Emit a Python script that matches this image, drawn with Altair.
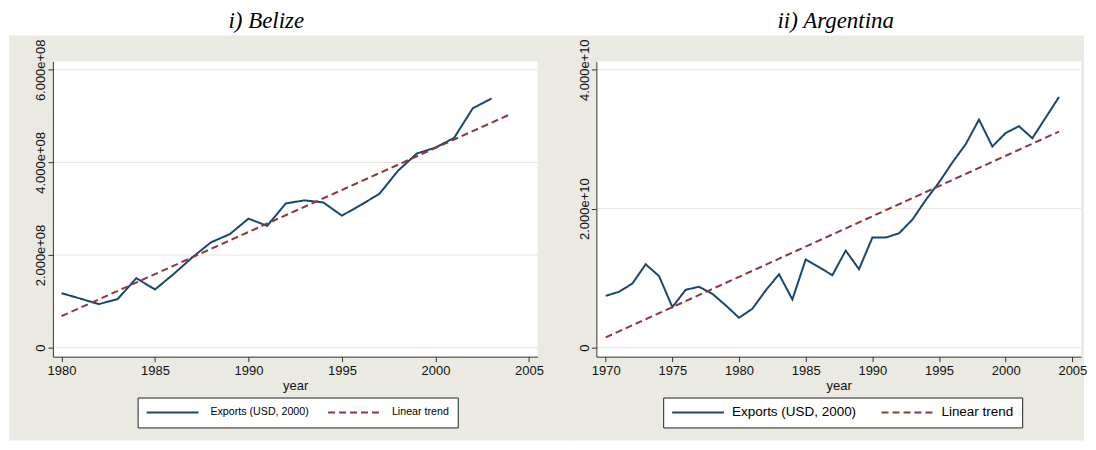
import altair as alt
import pandas as pd

# ---------------- data ----------------
EXP = "Exports (USD, 2000)"
TREND = "Linear trend"

belize_years = list(range(1980, 2004))
belize_exports = [1.177e8, 1.06e8, 0.94e8, 1.048e8, 1.50e8, 1.256e8, 1.59e8, 1.95e8,
                  2.275e8, 2.45e8, 2.785e8, 2.63e8, 3.115e8, 3.18e8, 3.136e8, 2.85e8,
                  3.08e8, 3.32e8, 3.82e8, 4.19e8, 4.32e8, 4.53e8, 5.17e8, 5.38e8]
belize_trend_years = [1980, 2004]
belize_trend = [0.68e8, 5.04e8]
belize_xticks = [1980, 1985, 1990, 1995, 2000, 2005]
belize_yticks = [0, 2e8, 4e8, 6e8]

argentina_years = list(range(1970, 2005))
argentina_exports = [0.746e10, 0.804e10, 0.923e10, 1.200e10, 1.030e10, 0.584e10, 0.833e10,
                     0.876e10, 0.775e10, 0.610e10, 0.430e10, 0.560e10, 0.823e10, 1.057e10,
                     0.694e10, 1.268e10, 1.158e10, 1.043e10, 1.397e10, 1.129e10, 1.584e10,
                     1.584e10, 1.646e10, 1.842e10, 2.124e10, 2.378e10, 2.665e10, 2.928e10,
                     3.282e10, 2.895e10, 3.090e10, 3.187e10, 3.014e10, 3.311e10, 3.608e10]
argentina_trend_years = [1970, 2004]
argentina_trend = [0.148e10, 3.11e10]
argentina_xticks = [1970, 1975, 1980, 1985, 1990, 1995, 2000, 2005]
argentina_yticks = [0, 2e10, 4e10]

# ---------------- style ----------------
NAVY = "#1a476f"
MAROON = "#90353b"
GREY = "#eaeae2"
GRID = "#e4e4da"
AXIS = "#333333"
SANS = "Liberation Sans"
SERIF = "Liberation Serif"
W, H = 486, 296

LABEL_EXPR = ("datum.value == 0 ? '0' : "
              "replace(format(datum.value, '.3e'), regexp('e\\\\+(\\\\d)$'), 'e+0$1')")


def panel(title, title_x, years, values, t_years, t_values, xdom, ydom, xticks, yticks,
          region, legend_x, legend_font, legend_offset, legend_colpad):
    df = pd.DataFrame({
        "year": years + t_years,
        "value": values + t_values,
        "series": [EXP] * len(years) + [TREND] * len(t_years),
    })
    legend = alt.Legend(
        title=None, orient="none", legendX=legend_x, legendY=337,
        direction="horizontal", columns=2, symbolType="stroke",
        symbolSize=2704, symbolStrokeWidth=2, clipHeight=14,
        labelFont=SANS, labelFontSize=legend_font, labelColor="black",
        labelOffset=legend_offset, columnPadding=legend_colpad, padding=8,
        labelLimit=400, fillColor="white", strokeColor="#222222",
    )
    y_scale = alt.Scale(domain=ydom, nice=False, zero=False)
    y_axis = alt.Axis(values=yticks, title=None, labelExpr=LABEL_EXPR, zindex=1,
                      labelAngle=270, labelAlign="center",
                      labelBaseline="alphabetic", labelPadding=3,
                      tickSize=5, grid=False,
                      labelFont=SANS, labelFontSize=13, labelColor="#111111",
                      domainColor=AXIS, tickColor=AXIS)
    one = pd.DataFrame({"label": [title]})
    # grey graph region behind the panel, white plot region on top of it
    region_layer = alt.Chart(one).mark_rect(color=GREY, clip=False).encode(
        x=alt.value(region[0]), x2=alt.value(region[1]),
        y=alt.value(-26), y2=alt.value(H + 84),
    )
    plot_layer = alt.Chart(one).mark_rect(color="white", clip=False).encode(
        x=alt.value(0), x2=alt.value(W), y=alt.value(0), y2=alt.value(H),
    )
    grid_layer = alt.Chart(pd.DataFrame({"value": yticks})).mark_rule(
        color=GRID, strokeWidth=1
    ).encode(
        y=alt.Y("value:Q", scale=y_scale, axis=y_axis),
        x=alt.value(0), x2=alt.value(W),
    )
    title_layer = alt.Chart(one).mark_text(
        font=SERIF, fontStyle="italic", fontSize=23, color="black",
        align="center", baseline="alphabetic", clip=False,
    ).encode(text="label:N", x=alt.value(title_x), y=alt.value(-34))
    lines = alt.Chart(df).mark_line(strokeWidth=2).encode(
        x=alt.X("year:Q",
                scale=alt.Scale(domain=xdom, nice=False, zero=False),
                axis=alt.Axis(values=xticks, format="d", title="year", zindex=1,
                              grid=False, labelFlush=False, labelOverlap=False,
                              tickSize=5, labelPadding=3, titlePadding=2,
                              labelFont=SANS, labelFontSize=13, labelColor="#111111",
                              titleFont=SANS, titleFontSize=13, titleFontWeight="normal",
                              titleColor="#111111", domainColor=AXIS, tickColor=AXIS)),
        y=alt.Y("value:Q", scale=y_scale, axis=y_axis),
        color=alt.Color("series:N",
                        scale=alt.Scale(domain=[EXP, TREND], range=[NAVY, MAROON]),
                        legend=legend),
        strokeDash=alt.StrokeDash("series:N",
                                  scale=alt.Scale(domain=[EXP, TREND], range=[[1, 0], [7, 4]]),
                                  legend=legend),
    )
    return alt.layer(region_layer, plot_layer, grid_layer, title_layer, lines).properties(
        width=W, height=H)


left = panel("i) Belize", 214, belize_years, belize_exports,
             belize_trend_years, belize_trend,
             [1979.54, 2005.46], [-1.94e7, 6.18e8], belize_xticks, belize_yticks,
             (-44, 518), 85, 10.7, 11, 18)
right = panel("ii) Argentina", 240, argentina_years, argentina_exports,
              argentina_trend_years, argentina_trend,
              [1969.3, 2005.65], [-1.29e9, 4.119e10], argentina_xticks, argentina_yticks,
              (-28, 489), 67, 13.5, 7, 24)

chart = alt.hconcat(
    left, right, spacing=59, bounds="flush",
    padding={"left": 0, "top": 0, "right": 0, "bottom": 0},
    background="white",
).resolve_scale(
    x="independent", y="independent", color="independent", strokeDash="independent"
).resolve_legend(
    color="independent", strokeDash="independent"
).configure(font=SANS).configure_view(fill="white", stroke="transparent")

chart.save("out.html", embed_options={"renderer": "svg", "actions": False})
